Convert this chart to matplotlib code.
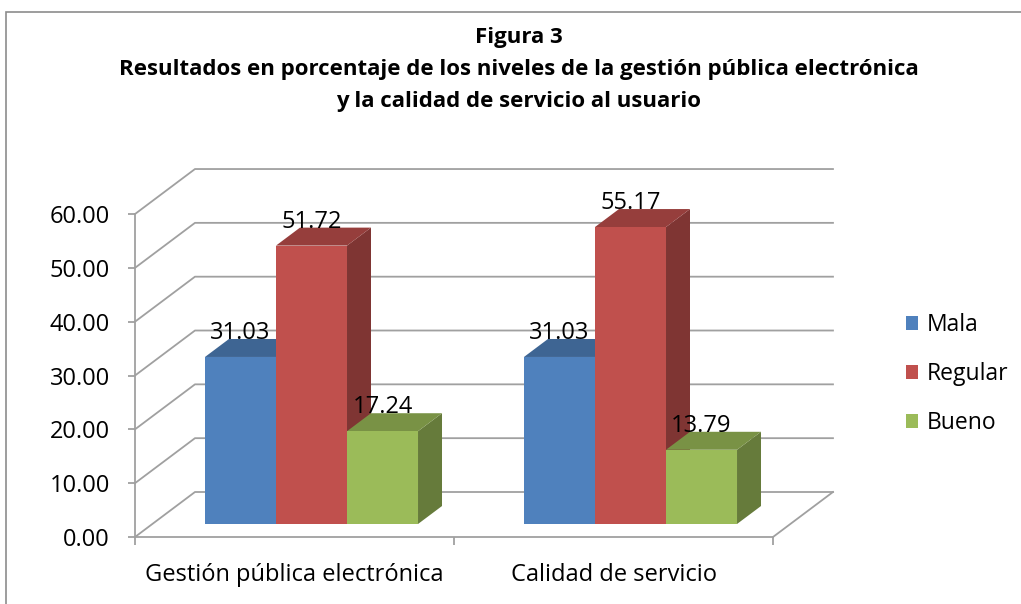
import matplotlib
matplotlib.use("Agg")
import matplotlib.pyplot as plt
from matplotlib.patches import Polygon, Rectangle, Patch
from matplotlib.colors import to_rgb

plt.rcParams['font.family'] = ['Open Sans', 'DejaVu Sans']

# data
categories = ["Gestión pública electrónica", "Calidad de servicio"]
series = ["Mala", "Regular", "Bueno"]
mala = [31.03, 31.03]
regular = [51.72, 55.17]
bueno = [17.24, 13.79]
yticks = [0, 10, 20, 30, 40, 50, 60]

front_colors = ["#4F81BD", "#C0504D", "#9BBB59"]


def shade(c, f):
    r, g, b = to_rgb(c)
    return (r * f, g * f, b * f)


fig = plt.figure(figsize=(10.21, 6.04), dpi=100)

# outer frame of the chart area
fig.patches.append(Rectangle((6 / 1021, -0.1), 1.2, 1.1 - 12 / 604,
                             transform=fig.transFigure, fill=False,
                             edgecolor="#8C8C8C", linewidth=1.2))

# axes placed so the front plane spans 0..2 categories, 0..60 percent
ax = fig.add_axes([135 / 1021, 67 / 604, 733.7 / 1021, 376.8 / 604])
ax.set_xlim(0, 2.3)
ax.set_ylim(0, 70)
ax.patch.set_visible(False)

# depth offsets (data units)
wall_dx, wall_dy = 0.188, 8.36      # back wall
bar_dx, bar_dy = 0.0533, 2.415      # bar front plane
dep_dx, dep_dy = 0.0752, 3.34       # bar depth

grid_c = "#A0A0A0"
ncat = len(categories)
fs = 17

# gridlines: left wall diagonals + back wall horizontals
for v in yticks:
    ax.plot([0, wall_dx, ncat + wall_dx], [v, v + wall_dy, v + wall_dy],
            color=grid_c, lw=1.3, zorder=1, clip_on=False)
# floor right edge
ax.plot([ncat, ncat + wall_dx], [0, wall_dy], color=grid_c, lw=1.3,
        zorder=1, clip_on=False)

# bars
values = [mala, regular, bueno]
bw = 0.2226
for i in range(ncat):
    start = i + (1 - bw * len(series)) / 2 + bar_dx
    for j, vals in enumerate(values):
        v = vals[i]
        x0 = start + j * bw
        x1 = x0 + bw
        y0 = bar_dy
        y1 = bar_dy + v
        fc = front_colors[j]
        side = Polygon([(x1, y0), (x1 + dep_dx, y0 + dep_dy),
                        (x1 + dep_dx, y1 + dep_dy), (x1, y1)],
                       closed=True, facecolor=shade(fc, 0.66),
                       edgecolor="none", zorder=3)
        top = Polygon([(x0, y1), (x0 + dep_dx, y1 + dep_dy),
                       (x1 + dep_dx, y1 + dep_dy), (x1, y1)],
                      closed=True, facecolor=shade(fc, 0.78),
                      edgecolor="none", zorder=3)
        front = Polygon([(x0, y0), (x1, y0), (x1, y1), (x0, y1)],
                        closed=True, facecolor=fc, edgecolor="none",
                        zorder=3)
        for p in (side, top, front):
            p.set_clip_on(False)
            ax.add_patch(p)
        ax.text((x0 + x1) / 2, y1 + dep_dy, f"{v:.2f}", ha="center",
                va="baseline", fontsize=fs, color="black", zorder=5)

# axes styling
for s in ["top", "right"]:
    ax.spines[s].set_visible(False)
ax.spines["left"].set_bounds(0, 60)
ax.spines["bottom"].set_bounds(0, ncat)
for s in ["left", "bottom"]:
    ax.spines[s].set_color(grid_c)
    ax.spines[s].set_linewidth(1.3)

ax.set_yticks(yticks)
ax.set_yticklabels([f"{t:.2f}" for t in yticks], fontsize=fs)
ax.tick_params(axis="y", length=5, color=grid_c, width=1.3, pad=13)

ax.set_xticks(range(ncat + 1))
ax.set_xticklabels([])
ax.set_xticks([k + 0.5 for k in range(ncat)], minor=True)
ax.set_xticklabels(categories, minor=True, fontsize=fs)
ax.tick_params(axis="x", which="major", length=6, color=grid_c, width=1.3)
ax.tick_params(axis="x", which="minor", length=0, pad=19)

# title
tx = 519 / 1021
fig.text(tx, 1 - 37 / 604, "Figura 3", ha="center", va="center",
         fontsize=16, fontweight="bold")
fig.text(tx, 1 - 70 / 604,
         "Resultados en porcentaje de los niveles de la gestión pública electrónica",
         ha="center", va="center", fontsize=16, fontweight="bold")
fig.text(tx, 1 - 101 / 604, "y la calidad de servicio al usuario",
         ha="center", va="center", fontsize=16, fontweight="bold")

# legend
handles = [Patch(facecolor=c, edgecolor="none") for c in front_colors]
fig.legend(handles, series, loc="center left",
           bbox_to_anchor=(885 / 1021, 1 - 374 / 604), frameon=False,
           fontsize=16.5, handlelength=0.55, handleheight=0.55,
           handletextpad=0.35, labelspacing=1.1)

fig.savefig("out.png", dpi=100)
